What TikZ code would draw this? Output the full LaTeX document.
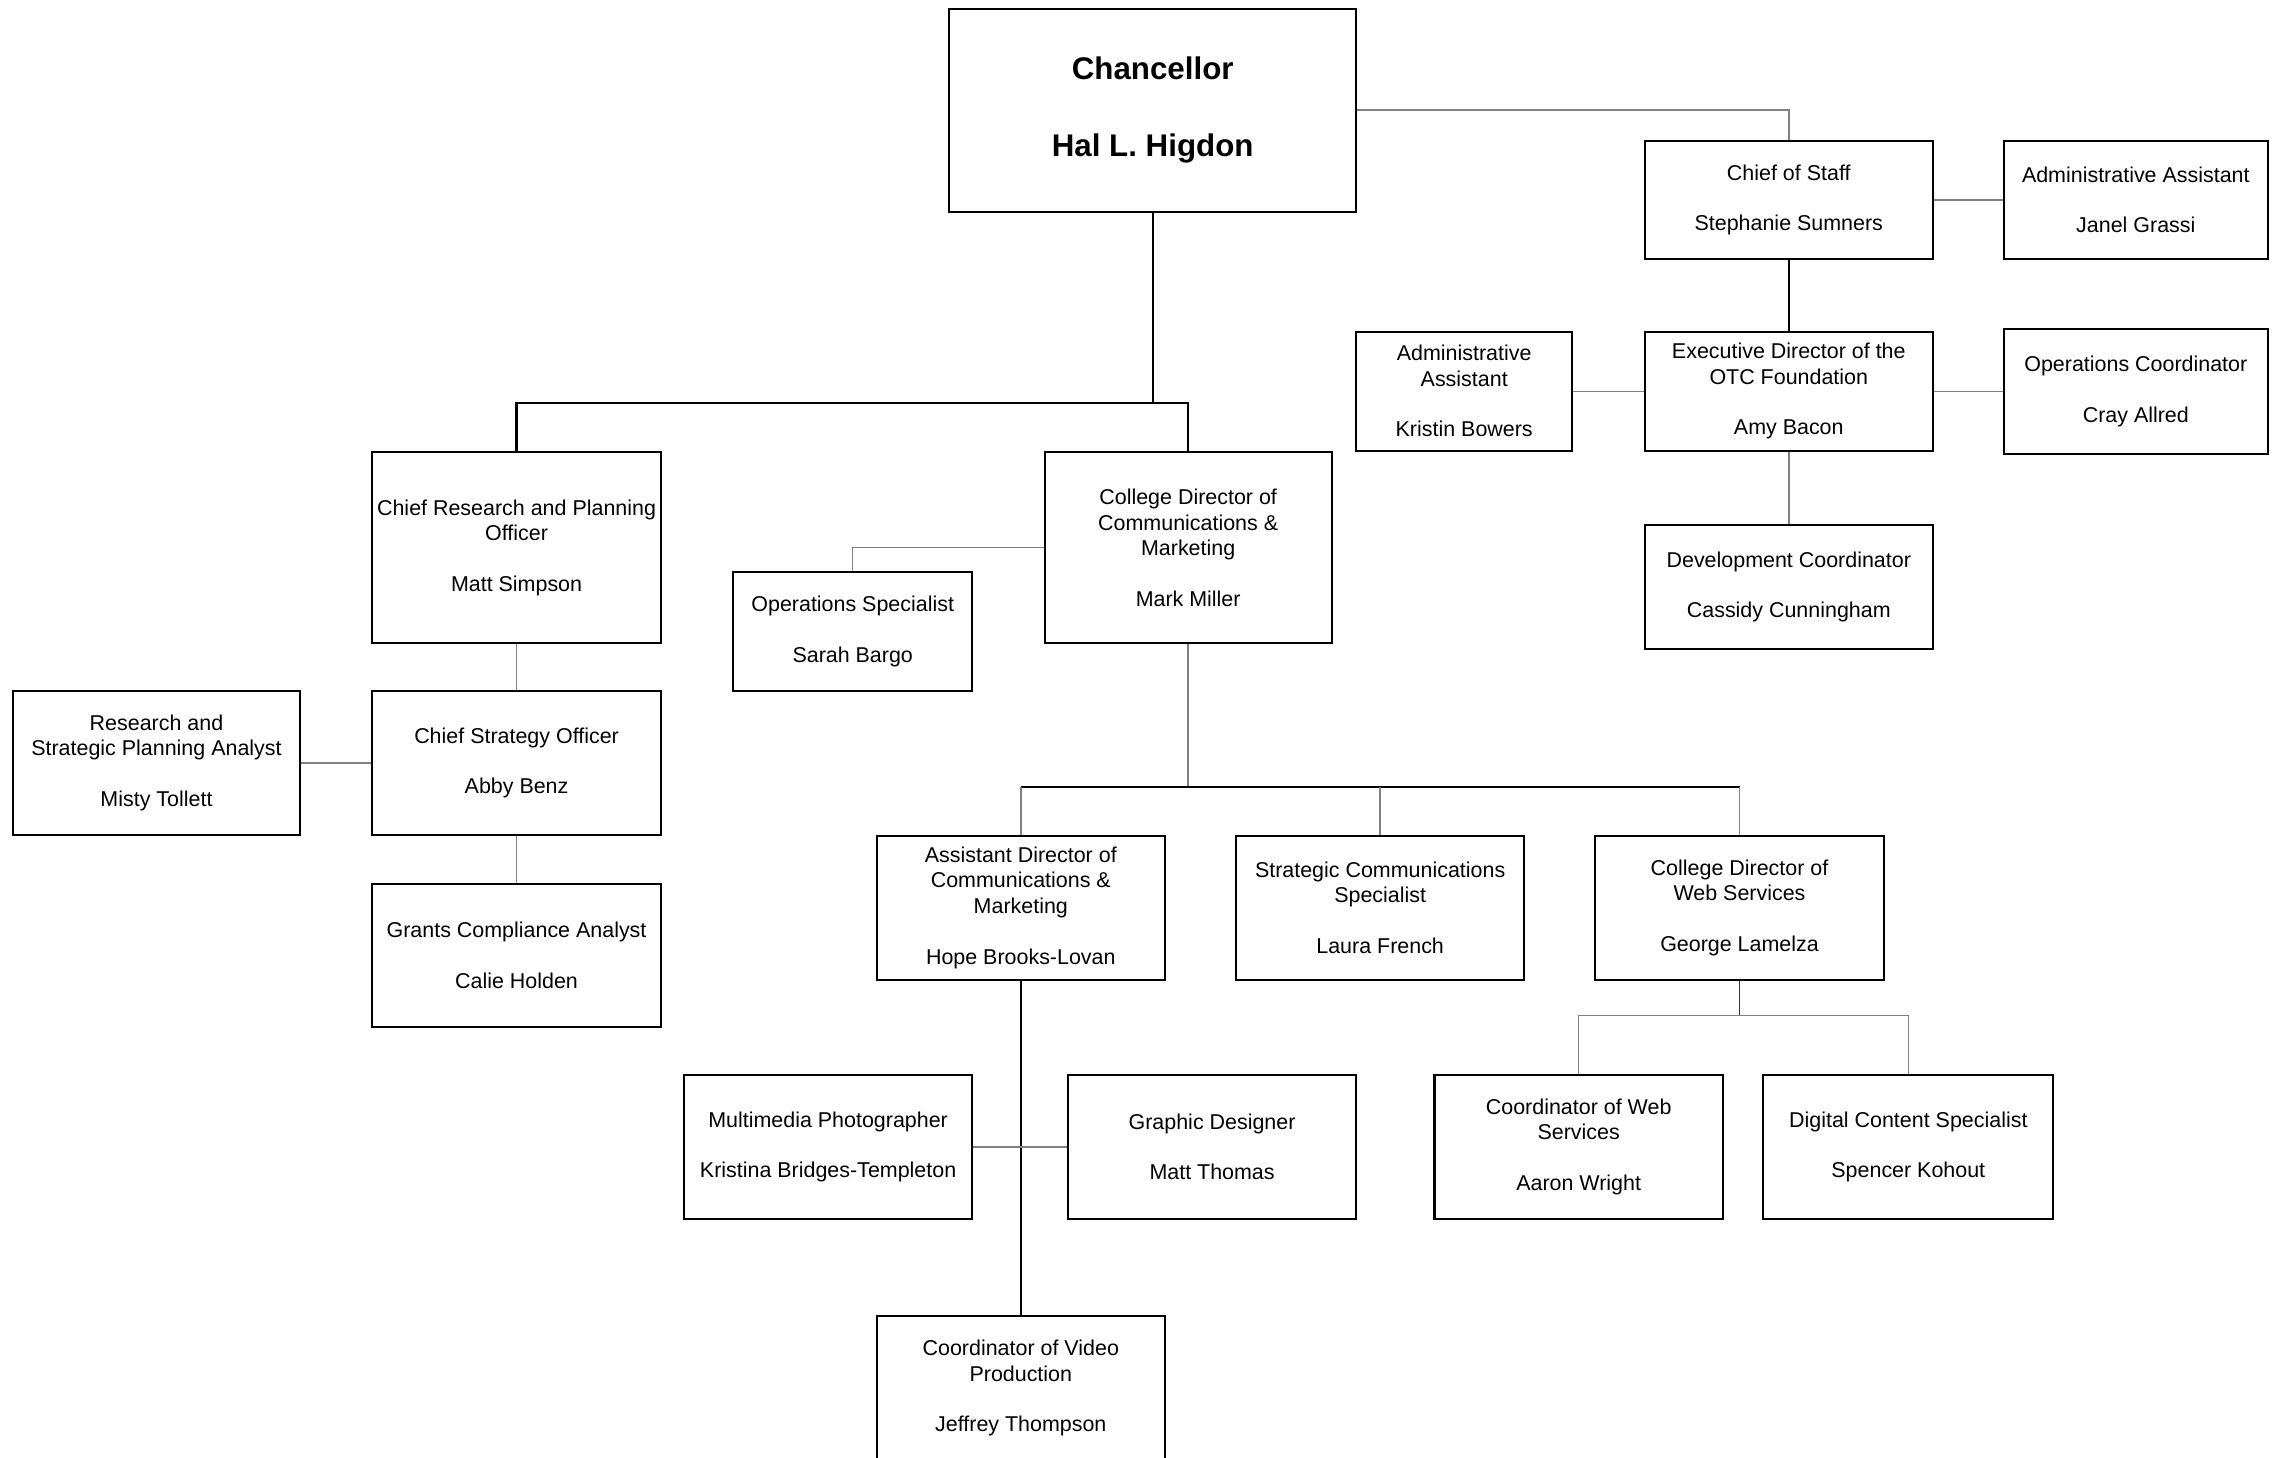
\documentclass[tikz,border=0pt]{standalone}
\usepackage{fontspec}
\setmainfont{Liberation Sans}
\begin{document}
\begin{tikzpicture}[x=0.5pt,y=-0.5pt,
  box/.style={draw=black, line width=0.7pt, rectangle, inner sep=0pt, align=center,
    font=\fontsize{7.4}{8.75}\selectfont, fill=white,
    execute at begin node={\rule{0pt}{7pt}}},
  mainline/.style={draw=black, line width=0.75pt},
  subline/.style={draw=black!50, line width=0.5pt},
  darkline/.style={draw=black!80, line width=0.65pt}]
\useasboundingbox (0,0) rectangle (1568,1006);
\fill[white] (0,0) rectangle (1568,1006);

% boxes
\node[box, minimum width=140.5pt, minimum height=70pt, font=\bfseries\fontsize{10.8}{13.25}\selectfont] (chan) at (795.5,76) {Chancellor\\[13.25pt]Hal L. Higdon};
\node[box, minimum width=99.5pt, minimum height=41pt] (cos) at (1234.5,138) {Chief of Staff\\[8.75pt]Stephanie Sumners};
\node[box, minimum width=91pt, minimum height=41pt] (aa1) at (1474,138) {Administrative Assistant\\[8.75pt]Janel Grassi};
\node[box, minimum width=99.5pt, minimum height=41pt] (exec) at (1234.5,270) {Executive Director of the\\OTC Foundation\\[8.75pt]Amy Bacon};
\node[box, minimum width=74.5pt, minimum height=41pt] (aa2) at (1010.5,270) {Administrative\\Assistant\\[8.75pt]Kristin Bowers};
\node[box, minimum width=91pt, minimum height=43pt] (opsc) at (1474,270) {Operations Coordinator\\[8.75pt]Cray Allred};
\node[box, minimum width=99.5pt, minimum height=43pt] (dev) at (1234.5,405) {Development Coordinator\\[8.75pt]Cassidy Cunningham};
\node[box, minimum width=99.5pt, minimum height=66pt] (cr) at (356.5,378) {Chief Research and Planning\\Officer\\[8.75pt]Matt Simpson};
\node[box, minimum width=99pt, minimum height=66pt] (cd) at (820,378) {College Director of\\Communications \&\\Marketing\\[8.75pt]Mark Miller};
\node[box, minimum width=82.5pt, minimum height=41pt] (ops) at (588.5,436) {Operations Specialist\\[8.75pt]Sarah Bargo};
\node[box, minimum width=99.5pt, minimum height=49.5pt] (cso) at (356.5,526.5) {Chief Strategy Officer\\[8.75pt]Abby Benz};
\node[box, minimum width=99pt, minimum height=49.5pt] (ra) at (108,526.5) {Research and\\Strategic Planning Analyst\\[8.75pt]Misty Tollett};
\node[box, minimum width=99.5pt, minimum height=49.5pt] (gca) at (356.5,659.5) {Grants Compliance Analyst\\[8.75pt]Calie Holden};
\node[box, minimum width=99.5pt, minimum height=49.5pt] (ad) at (704.5,626.5) {Assistant Director of\\Communications \&\\Marketing\\[8.75pt]Hope Brooks-Lovan};
\node[box, minimum width=99.5pt, minimum height=49.5pt] (scs) at (952.5,626.5) {Strategic Communications\\Specialist\\[8.75pt]Laura French};
\node[box, minimum width=99.5pt, minimum height=49.5pt] (ws) at (1200.5,626.5) {College Director of\\Web Services\\[8.75pt]George Lamelza};
\node[box, minimum width=99.5pt, minimum height=49.5pt] (mp) at (571.5,791.5) {Multimedia Photographer\\[8.75pt]Kristina Bridges-Templeton};
\node[box, minimum width=99.5pt, minimum height=49.5pt] (gd) at (836.5,791.5) {Graphic Designer\\[8.75pt]Matt Thomas};
\node[box, minimum width=99.5pt, minimum height=49.5pt] (cw) at (1089.5,791.5) {Coordinator of Web\\Services\\[8.75pt]Aaron Wright};
\node[box, minimum width=100pt, minimum height=49.5pt] (dcs) at (1317,791.5) {Digital Content Specialist\\[8.75pt]Spencer Kohout};
\node[box, minimum width=99.5pt, minimum height=50pt] (vp) at (704.5,958) {Coordinator of Video\\Production\\[8.75pt]Jeffrey Thompson};

% junction coordinates
\coordinate (b1) at (795.5,278);
\coordinate (b2) at (820,543);
\coordinate (b3) at (1200.5,701);

% connectors
\draw[subline] (chan.east) -| (cos.north);
\draw[mainline] (chan.south) -- (b1);
\draw[mainline] (cr.north) -- (cr.north |- b1) -- (cd.north |- b1) -- (cd.north);
\draw[subline] (cos.east) -- (aa1.west);
\draw[mainline] (cos.south) -- (exec.north);
\draw[subline] (exec.west) -- (aa2.east);
\draw[subline] (exec.east) -- (opsc.west);
\draw[subline] (exec.south) -- (dev.north);
\draw[subline] (cd.west) -| (ops.north);
\draw[subline] (cr.south) -- (cso.north);
\draw[subline] (cso.west) -- (ra.east);
\draw[subline] (cso.south) -- (gca.north);
\draw[subline] (cd.south) -- (b2);
\draw[mainline] (ad.north |- b2) -- (ws.north |- b2);
\draw[subline] (ad.north |- b2) -- (ad.north);
\draw[subline] (scs.north |- b2) -- (scs.north);
\draw[subline] (ws.north |- b2) -- (ws.north);
\draw[mainline] (ad.south) -- (vp.north);
\draw[subline] (mp.east) -- (gd.west);
\draw[darkline] (ws.south) -- (b3);
\draw[subline] (cw.north) -- (cw.north |- b3) -- (dcs.north |- b3) -- (dcs.north);
\end{tikzpicture}
\end{document}
